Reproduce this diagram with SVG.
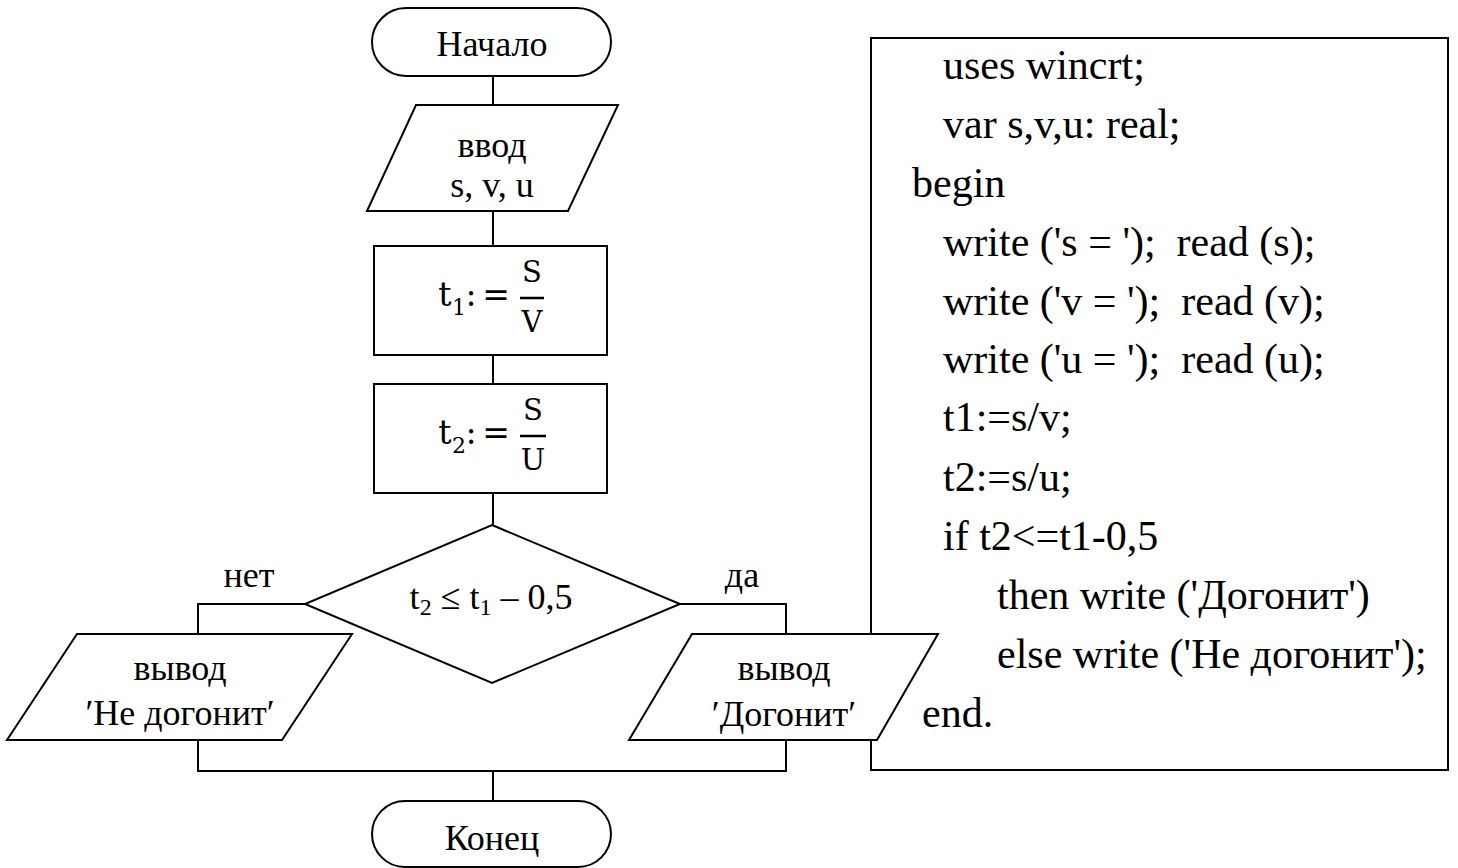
<svg xmlns="http://www.w3.org/2000/svg" width="1458" height="868" viewBox="0 0 1458 868">
  <style>
    .shape { fill: #fff; stroke: #000; stroke-width: 2; }
    .line { fill: none; stroke: #000; stroke-width: 2; }
    .lbl { font-family: "Liberation Serif", "Times New Roman", serif; font-size: 36px; fill: #000; text-anchor: middle; }
    .code { font-family: "Liberation Serif", "Times New Roman", serif; font-size: 42px; fill: #000; white-space: pre; }
    .math { font-family: "DejaVu Serif", serif; fill: #000; text-anchor: middle; }
  </style>

  <!-- Pascal listing -->
  <g id="code">
    <rect class="shape" x="871" y="38" width="577" height="732"/>
    <text class="code" xml:space="preserve" x="943" y="79">uses wincrt;</text>
    <text class="code" xml:space="preserve" x="943" y="138">var s,v,u: real;</text>
    <text class="code" xml:space="preserve" x="912" y="197">begin</text>
    <text class="code" xml:space="preserve" x="943" y="256">write ('s = ');  read (s);</text>
    <text class="code" xml:space="preserve" x="943" y="315">write ('v = ');  read (v);</text>
    <text class="code" xml:space="preserve" x="943" y="373">write ('u = ');  read (u);</text>
    <text class="code" xml:space="preserve" x="943" y="431">t1:=s/v;</text>
    <text class="code" xml:space="preserve" x="943" y="491">t2:=s/u;</text>
    <text class="code" xml:space="preserve" x="943" y="550">if t2&lt;=t1-0,5</text>
    <text class="code" xml:space="preserve" x="997" y="609">then write ('Догонит')</text>
    <text class="code" xml:space="preserve" x="997" y="668">else write ('Не догонит');</text>
    <text class="code" xml:space="preserve" x="922" y="727">end.</text>
  </g>

  <!-- connectors -->
  <g id="connectors">
    <line class="line" x1="493" y1="76" x2="493" y2="105"/>
    <line class="line" x1="493" y1="211" x2="493" y2="246"/>
    <line class="line" x1="493" y1="355" x2="493" y2="384"/>
    <line class="line" x1="493" y1="493" x2="493" y2="525"/>
    <polyline class="line" points="305,604 198,604 198,634"/>
    <polyline class="line" points="680,604 786,604 786,634"/>
    <polyline class="line" points="198,740 198,771 786,771 786,740"/>
    <line class="line" x1="493" y1="771" x2="493" y2="801"/>
    <text class="lbl" x="249" y="587">нет</text>
    <text class="lbl" x="742" y="587">да</text>
  </g>

  <g id="start">
    <rect class="shape" x="372" y="8" width="239" height="68" rx="34" ry="34"/>
    <text class="lbl" x="492" y="56">Начало</text>
  </g>

  <g id="input">
    <polygon class="shape" points="416,105 618,105 568,211 367,211"/>
    <text class="lbl" x="492" y="157">ввод</text>
    <text class="lbl" x="492" y="197">s, v, u</text>
  </g>

  <g id="calc-t1">
    <rect class="shape" x="374" y="246" width="233" height="109"/>
    <text class="math" x="445" y="306" font-size="33">t</text>
    <text class="math" x="459" y="315" font-size="22">1</text>
    <text class="math" x="471" y="306" font-size="33">:</text>
    <text class="math" x="496" y="306" font-size="33">=</text>
    <text class="math" x="532" y="282" font-size="29">S</text>
    <line x1="520" y1="298" x2="544" y2="298" stroke="#000" stroke-width="2.5"/>
    <text class="math" x="532" y="332" font-size="29">V</text>
  </g>

  <g id="calc-t2">
    <rect class="shape" x="374" y="384" width="233" height="109"/>
    <text class="math" x="445" y="444" font-size="33">t</text>
    <text class="math" x="459" y="453" font-size="22">2</text>
    <text class="math" x="471" y="444" font-size="33">:</text>
    <text class="math" x="496" y="444" font-size="33">=</text>
    <text class="math" x="533" y="420" font-size="29">S</text>
    <line x1="520" y1="436" x2="546" y2="436" stroke="#000" stroke-width="2.5"/>
    <text class="math" x="533" y="470" font-size="29">U</text>
  </g>

  <g id="decision">
    <polygon class="shape" points="492,525 680,604 492,683 305,604"/>
    <text class="lbl" x="491" y="609">t<tspan font-size="24" dy="6">2</tspan><tspan dy="-6"> ≤ t</tspan><tspan font-size="24" dy="6">1</tspan><tspan dy="-6"> – 0,5</tspan></text>
  </g>

  <g id="out-no">
    <polygon class="shape" points="77,634 352,634 282,740 7,740"/>
    <text class="lbl" x="180" y="680">вывод</text>
    <text class="lbl" x="180" y="725">′Не догонит′</text>
  </g>

  <g id="out-yes">
    <polygon class="shape" points="692,634 938,634 877,740 629,740"/>
    <text class="lbl" x="784" y="680">вывод</text>
    <text class="lbl" x="784" y="726">′Догонит′</text>
  </g>

  <g id="end">
    <rect class="shape" x="372" y="801" width="239" height="66" rx="33" ry="33"/>
    <text class="lbl" x="492" y="850">Конец</text>
  </g>
</svg>
